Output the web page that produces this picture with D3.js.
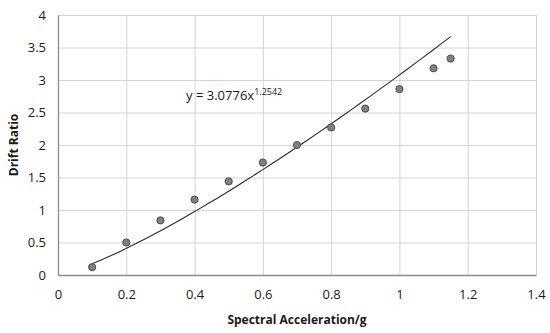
<!DOCTYPE html>
<html>
<head>
<meta charset="utf-8">
<script src="https://cdn.jsdelivr.net/npm/d3@7"></script>
<style>
  body { margin: 0; background: #fff; }
  text { font-family: "Open Sans", "Liberation Sans", sans-serif; fill: #1a1a1a; }
</style>
</head>
<body>
<svg id="chart" width="550" height="333"></svg>
<script>
// observed points
const accel = [0.1, 0.2, 0.3, 0.4, 0.5, 0.6, 0.7, 0.8, 0.9, 1.0, 1.1, 1.15];
const drift = [0.12, 0.5, 0.84, 1.16, 1.44, 1.73, 2.0, 2.27, 2.56, 2.86, 3.18, 3.33];

// power trendline as printed on the chart
const trendCoef = 3.0776;
const trendExp = 1.2542;
const trendRange = [0.1, 1.15];

const xTicks = [0, 0.2, 0.4, 0.6, 0.8, 1, 1.2, 1.4];
const yTicks = [0, 0.5, 1, 1.5, 2, 2.5, 3, 3.5, 4];

const svg = d3.select("#chart");
const margin = { top: 15, right: 14, bottom: 58, left: 58 };
const width = 550 - margin.left - margin.right,
    height = 333 - margin.top - margin.bottom;

const g = svg.append("g").attr("transform", "translate(" + margin.left + "," + margin.top + ")");

const x = d3.scaleLinear().domain([0, 1.4]).range([0, width]);
const y = d3.scaleLinear().domain([0, 4]).range([height, 0]);

// grid
g.append("g").selectAll("line.hgrid")
    .data(yTicks.slice(1))
    .join("line")
    .attr("x1", 0).attr("x2", width)
    .attr("y1", d => y(d) + 0.5).attr("y2", d => y(d) + 0.5)
    .attr("stroke", "#d4d4d4").attr("stroke-width", 1);

g.append("g").selectAll("line.vgrid")
    .data(xTicks.slice(1))
    .join("line")
    .attr("x1", d => x(d) + 0.5).attr("x2", d => x(d) + 0.5)
    .attr("y1", 0).attr("y2", height)
    .attr("stroke", "#d4d4d4").attr("stroke-width", 1);

// axes
const xAxis = g.append("g")
    .attr("transform", "translate(0," + height + ")")
    .call(d3.axisBottom(x).tickValues(xTicks).tickFormat(d3.format("")).tickSize(0).tickPadding(15));
xAxis.select(".domain").attr("stroke", "#8c8c8c").attr("stroke-width", 1.3);
xAxis.selectAll("text").attr("font-size", 13).attr("fill", "#1a1a1a");

const yAxis = g.append("g")
    .call(d3.axisLeft(y).tickValues(yTicks).tickFormat(d3.format("")).tickSize(0).tickPadding(12));
yAxis.select(".domain").attr("stroke", "#8c8c8c").attr("stroke-width", 1.3);
yAxis.selectAll("text").attr("font-size", 13).attr("fill", "#1a1a1a");

// trendline
const trendPts = d3.range(0, 41).map(i => {
    const xv = trendRange[0] + (trendRange[1] - trendRange[0]) * i / 40;
    return [xv, trendCoef * Math.pow(xv, trendExp)];
});
g.append("path")
    .datum(trendPts)
    .attr("fill", "none")
    .attr("stroke", "#2a2a2a")
    .attr("stroke-width", 1.1)
    .attr("d", d3.line().x(d => x(d[0])).y(d => y(d[1])));

// points
g.append("g").selectAll("circle")
    .data(accel.map((a, i) => ({ a: a, d: drift[i] })))
    .join("circle")
    .attr("cx", d => x(d.a))
    .attr("cy", d => y(d.d))
    .attr("r", 3.6)
    .attr("fill", "#808080")
    .attr("stroke", "#4d4d4d")
    .attr("stroke-width", 1);

// equation label
const eq = g.append("text")
    .attr("x", x(0.375))
    .attr("y", y(2.7))
    .attr("font-size", 13);
eq.append("tspan").text("y = 3.0776x");
eq.append("tspan").attr("font-size", 9).attr("dy", -5).text("1.2542");

// axis titles
svg.append("text")
    .attr("x", margin.left + width / 2)
    .attr("y", 324)
    .attr("text-anchor", "middle")
    .attr("font-size", 12)
    .attr("font-weight", "bold")
    .text("Spectral Acceleration/g");

svg.append("text")
    .attr("transform", "translate(18," + (margin.top + height / 2) + ") rotate(-90)")
    .attr("text-anchor", "middle")
    .attr("font-size", 12)
    .attr("font-weight", "bold")
    .text("Drift Ratio");
</script>
</body>
</html>
